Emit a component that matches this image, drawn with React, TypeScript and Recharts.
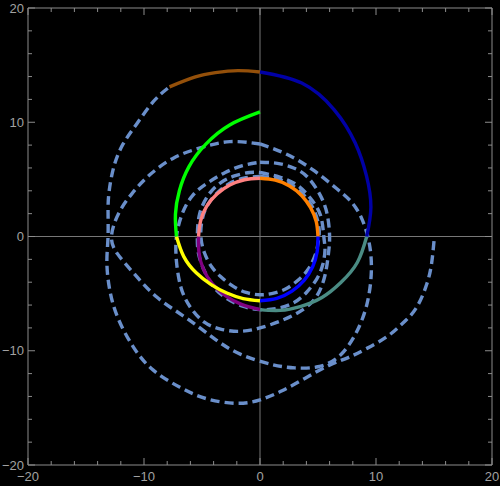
import { LineChart, Line, XAxis, YAxis } from "recharts";

// ---- data (x/y pairs in plot units) ----

const xTicks = [-20, -18, -16, -14, -12, -10, -8, -6, -4, -2, 0, 2, 4, 6, 8, 10, 12, 14, 16, 18, 20];
const yTicks = [-20, -18, -16, -14, -12, -10, -8, -6, -4, -2, 0, 2, 4, 6, 8, 10, 12, 14, 16, 18, 20];

const xAxisLine = [[-20, 0], [20, 0]];
const yAxisLine = [[0, -20], [0, 20]];

// dashed orbit pieces
const outerSpiral = [
  [15.0, -0.4], [14.8, -2.3], [14.4, -4.1], [13.5, -6.2], [12.3, -7.6], [10.9, -8.8],
  [9.2, -9.8], [7.6, -10.6], [5.9, -11.3], [3.9, -12.4], [1.9, -13.5], [0, -14.3],
  [-2.0, -14.6], [-4.6, -14.2], [-6.9, -13.2], [-9.2, -11.7], [-10.9, -9.7], [-12.3, -7.0],
  [-13.0, -4.4], [-13.2, -2.1], [-13.1, 0], [-13.1, 2.3], [-13.0, 4.0], [-12.6, 6.1],
  [-11.8, 8.1], [-10.6, 9.9], [-9.2, 11.8], [-7.8, 13.1],
];

const loopB = [
  [0, 8.1], [2.3, 7.2], [4.6, 5.8], [6.6, 4.2], [7.9, 3.0], [8.8, 1.5], [9.4, -0.5],
  [9.6, -3.0], [9.2, -6.0], [8.2, -8.6], [6.8, -10.5], [5.0, -11.4], [3.0, -11.5],
  [1.0, -11.2], [-1.7, -10.3], [-4.0, -8.9], [-6.4, -7.1], [-8.9, -5.3], [-10.9, -3.2],
  [-12.3, -1.5], [-12.8, 0], [-12.2, 2.0], [-11.0, 3.8], [-9.5, 5.4], [-7.4, 6.9],
  [-5.0, 7.8], [-2.6, 8.3], [0, 8.1],
];

const loopC = [
  [0, 6.5], [1.5, 6.4], [2.9, 6.0], [4.1, 5.2], [5.2, 3.6], [5.8, 1.9], [6.0, 0],
  [5.9, -1.5], [5.6, -3.4], [4.9, -5.2], [3.7, -6.4], [2.0, -7.3], [0, -8.0],
  [-1.8, -8.3], [-3.4, -8.1], [-4.8, -7.5], [-6.0, -6.2], [-6.8, -4.5], [-7.2, -2.2],
  [-7.2, 0], [-6.7, 2.0], [-5.8, 3.6], [-4.5, 4.7], [-3.0, 5.6], [-1.5, 6.2], [0, 6.5],
];

const loopD = [
  [0, 5.6], [1.7, 5.2], [3.2, 4.5], [4.3, 3.4], [5.2, 1.9], [5.5, 0], [5.6, -1.2],
  [5.4, -2.5], [4.9, -3.7], [4.0, -4.9], [2.9, -5.8], [1.5, -6.3], [0, -6.4],
  [-1.5, -6.1], [-2.9, -5.4], [-4.0, -4.4], [-4.8, -3.0], [-5.3, -1.5], [-5.4, 0],
  [-5.2, 2.0], [-4.4, 3.7], [-3.4, 4.7], [-2.2, 5.3], [-0.9, 5.6], [0, 5.6],
];

const loopE = [
  [0, 5.25], [1.5, 5.05], [2.8, 4.45], [3.9, 3.5], [4.7, 2.2], [5.1, 0.6], [5.0, -0.6],
  [4.8, -1.5], [4.2, -2.8], [3.3, -3.8], [2.2, -4.6], [1.0, -5.0], [0, -5.1],
  [-1.2, -4.9], [-2.4, -4.3], [-3.4, -3.5], [-4.2, -2.6], [-4.8, -1.4], [-5.1, 0],
  [-5.0, 1.4], [-4.6, 2.6], [-3.8, 3.7], [-2.7, 4.6], [-1.4, 5.1], [0, 5.25],
];

// highlighted quarter turns
const brownArc = [[-7.8, 13.1], [-5.64, 13.95], [-3.84, 14.34], [-1.91, 14.52], [0, 14.4]];
const navyArc = [[0, 14.4], [3.6, 13.43], [6.4, 11.09], [8.2, 8.2], [9.18, 5.3], [9.56, 2.56], [9.2, 0]];
const tealArc = [[9.2, 0], [8.4, -2.25], [6.97, -4.03], [5.34, -5.34], [3.53, -6.11], [1.73, -6.47], [0, -6.4]];
const purpleArc = [[0, -6.4], [-1.59, -5.94], [-2.99, -5.17], [-4.12, -4.12], [-4.89, -2.83], [-5.26, -1.41], [-5.3, 0]];
const pinkArc = [[-5.3, 0], [-5.12, 1.37], [-4.59, 2.65], [-3.71, 3.71], [-2.6, 4.5], [-1.33, 4.97], [0, 5.1]];
const orangeArc = [[0, 5.1], [1.32, 4.93], [2.55, 4.42], [3.59, 3.59], [4.36, 2.52], [4.85, 1.3], [5.0, 0]];
const blueArc = [[5.0, 0], [4.93, -1.32], [4.55, -2.63], [3.82, -3.82], [2.76, -4.78], [1.45, -5.41], [0, -5.62]];
const yellowArc = [[0, -5.62], [-1.45, -5.43], [-2.86, -4.95], [-4.21, -4.21], [-5.5, -3.18], [-6.57, -1.76], [-7.2, 0]];
const greenArc = [[-7.2, 0], [-7.29, 1.95], [-6.95, 4.01], [-6.12, 6.12], [-4.67, 8.08], [-2.61, 9.76], [0, 10.9]];

// ---- styles ----
const FRAME = "#8c8c8c";
const LABEL = "#a2a2a2";
const ORIGIN_AXES = "#777777";
const DASHED = "#6a8fca";
const FONT = "'Liberation Sans', Arial, sans-serif";
const LINE_W = 3.4;

const dashedPieces = [outerSpiral, loopB, loopC, loopD, loopE];
const arcs = [tealArc, purpleArc, pinkArc, orangeArc, blueArc, yellowArc, greenArc, brownArc, navyArc];
const arcColors = ["#4a8c84", "#800080", "#ff8080", "#ff8000", "#0000ff", "#ffff00", "#00ff00", "#94500a", "#0000a6"];

const toPts = (pairs: number[][]) => pairs.map(([x, y]) => ({ x, y }));
const fmt = (v: number) => (v < 0 ? `\u2212${Math.abs(v)}` : `${v}`);
const isMajor = (v: number) => Math.abs(v) % 10 === 0;

function BottomTick({ x, y, payload }: any) {
  const v = payload.value as number;
  const major = isMajor(v);
  return (
    <g>
      <line x1={x} x2={x} y1={y} y2={y - (major ? 7 : 4)} stroke={FRAME} />
      {major && (
        <text x={x} y={y + 7} dy="0.71em" textAnchor="middle" fill={LABEL} fontSize={13} fontFamily={FONT}>
          {fmt(v)}
        </text>
      )}
    </g>
  );
}

function TopTick({ x, y, payload }: any) {
  const major = isMajor(payload.value);
  return <line x1={x} x2={x} y1={y} y2={y + (major ? 7 : 4)} stroke={FRAME} />;
}

function LeftTick({ x, y, payload }: any) {
  const v = payload.value as number;
  const major = isMajor(v);
  return (
    <g>
      <line x1={x} x2={x + (major ? 7 : 4)} y1={y} y2={y} stroke={FRAME} />
      {major && (
        <text x={x - 4} y={y} dy="0.35em" textAnchor="end" fill={LABEL} fontSize={13} fontFamily={FONT}>
          {fmt(v)}
        </text>
      )}
    </g>
  );
}

function RightTick({ x, y, payload }: any) {
  const major = isMajor(payload.value);
  return <line x1={x} x2={x - (major ? 7 : 4)} y1={y} y2={y} stroke={FRAME} />;
}

export default function App() {
  return (
    <div style={{ position: "fixed", left: 0, top: 0, width: 500, height: 486, background: "#000" }}>
      <LineChart width={500} height={486} margin={{ top: 0, right: 0, bottom: 0, left: 0 }}>
        <XAxis
          dataKey="x"
          type="number"
          domain={[-20, 20]}
          ticks={xTicks}
          interval={0}
          height={21}
          allowDataOverflow
          tickSize={0}
          tickMargin={0}
          tickLine={false}
          axisLine={{ stroke: FRAME }}
          tick={<BottomTick />}
        />
        <XAxis
          xAxisId="top"
          orientation="top"
          dataKey="x"
          type="number"
          domain={[-20, 20]}
          ticks={xTicks}
          interval={0}
          height={8}
          allowDataOverflow
          tickSize={0}
          tickMargin={0}
          tickLine={false}
          axisLine={{ stroke: FRAME }}
          tick={<TopTick />}
        />
        <YAxis
          type="number"
          domain={[-20, 20]}
          ticks={yTicks}
          interval={0}
          width={28}
          allowDataOverflow
          tickSize={0}
          tickMargin={0}
          tickLine={false}
          axisLine={{ stroke: FRAME }}
          tick={<LeftTick />}
        />
        <YAxis
          yAxisId="right"
          orientation="right"
          type="number"
          domain={[-20, 20]}
          ticks={yTicks}
          interval={0}
          width={8}
          allowDataOverflow
          tickSize={0}
          tickMargin={0}
          tickLine={false}
          axisLine={{ stroke: FRAME }}
          tick={<RightTick />}
        />

        <Line data={toPts(xAxisLine)} dataKey="y" type="linear" stroke={ORIGIN_AXES} strokeWidth={1} dot={false} activeDot={false} isAnimationActive={false} />
        <Line data={toPts(yAxisLine)} dataKey="y" type="linear" stroke={ORIGIN_AXES} strokeWidth={1} dot={false} activeDot={false} isAnimationActive={false} />

        {dashedPieces.map((piece, i) => (
          <Line
            key={`d${i}`}
            data={toPts(piece)}
            dataKey="y"
            type="natural"
            stroke={DASHED}
            strokeWidth={LINE_W}
            strokeDasharray="9 5"
            dot={false}
            activeDot={false}
            isAnimationActive={false}
          />
        ))}

        {arcs.map((arc, i) => (
          <Line
            key={`a${i}`}
            data={toPts(arc)}
            dataKey="y"
            type="natural"
            stroke={arcColors[i]}
            strokeWidth={LINE_W}
            dot={false}
            activeDot={false}
            isAnimationActive={false}
          />
        ))}
      </LineChart>
    </div>
  );
}
